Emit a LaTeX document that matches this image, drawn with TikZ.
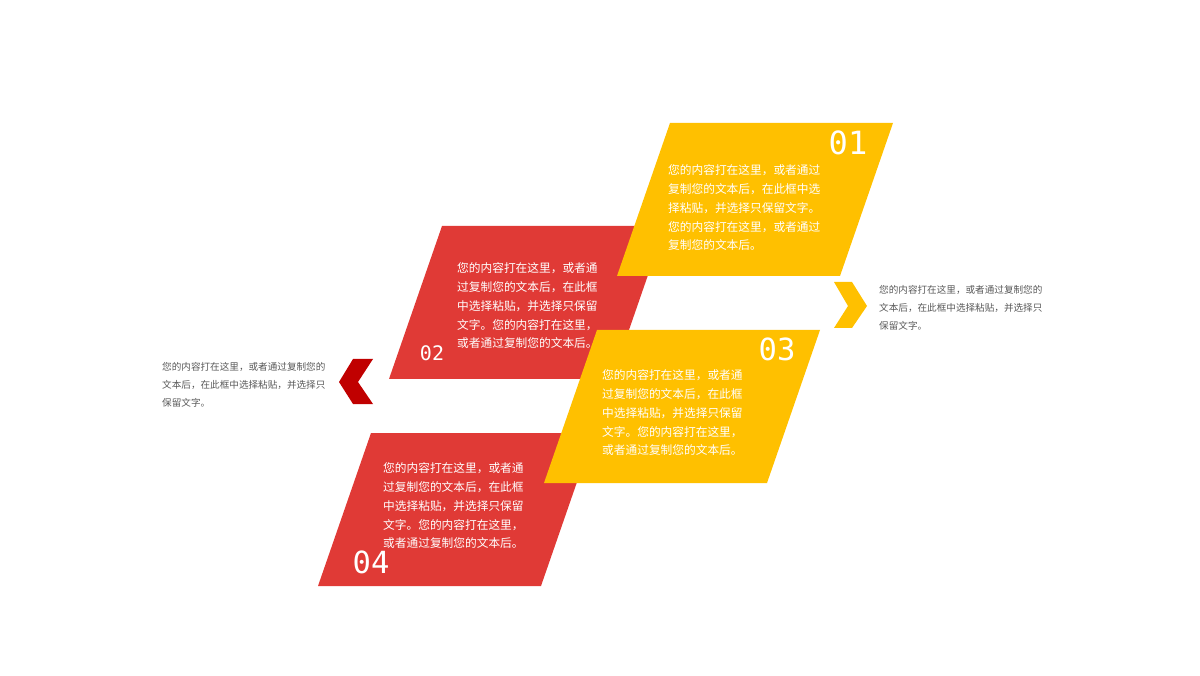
\documentclass[tikz,border=0pt]{standalone}
\usepackage{fontspec}
\setmainfont{Liberation Sans}
\newfontfamily\cjkfont{Noto Sans CJK SC}
\newfontfamily\numfont{DejaVu Sans Mono}
\definecolor{stepRed}{HTML}{E03A36}
\definecolor{stepGold}{HTML}{FFC000}
\definecolor{arrowRed}{HTML}{C00000}
\definecolor{noteGray}{HTML}{595959}
\tikzstyle{stepText}=[anchor=north west,inner sep=0pt,align=left,text=white,font=\cjkfont\fontsize{11.7}{18.8}\selectfont]
\tikzstyle{noteText}=[anchor=north west,inner sep=0pt,align=left,text=noteGray,font=\cjkfont\fontsize{9.6}{18}\selectfont]
\tikzstyle{stepNumber}=[inner sep=0pt,text=white,font=\numfont\fontsize{32}{32}\selectfont]

\begin{document}
\begin{tikzpicture}[x=1pt,y=-1pt]
		\useasboundingbox (0,0) rectangle (1200,676);
		
		\fill[stepRed] (442,226) -- (665,226) -- (612,379) -- (389,379) -- cycle;
		\fill[stepRed] (371,433) -- (594,433) -- (541,586) -- (318,586) -- cycle;
		\fill[stepGold] (670,123) -- (893,123) -- (840,276) -- (617,276) -- cycle;
		\fill[stepGold] (597,330) -- (820,330) -- (767,483) -- (544,483) -- cycle;
		
		\fill[arrowRed] (353,359) -- (373,359) -- (358,382) -- (373,404) -- (353,404) -- (339,382) -- cycle;
		\fill[stepGold] (834,282) -- (852,282) -- (867,306) -- (852,328) -- (834,328) -- (848,306) -- cycle;
		
		\node[stepNumber] (n1) at (848,143) {01};
		\node[stepNumber,font=\numfont\fontsize{20}{20}\selectfont] (n2) at (432,353) {02};
		\node[stepNumber,font=\numfont\fontsize{30.5}{30.5}\selectfont] (n3) at (777,349) {03};
		\node[stepNumber,font=\numfont\fontsize{30.5}{30.5}\selectfont] (n4) at (371,562) {04};
		
		\node[stepText] (t1) at (668,164.5) {您的内容打在这里，或者通过\\复制您的文本后，在此框中选\\择粘贴，并选择只保留文字。\\您的内容打在这里，或者通过\\复制您的文本后。};
		\node[stepText] (t2) at (457,262.5) {您的内容打在这里，或者通\\过复制您的文本后，在此框\\中选择粘贴，并选择只保留\\文字。您的内容打在这里，\\或者通过复制您的文本后。};
		\node[stepText] (t3) at (602,369.5) {您的内容打在这里，或者通\\过复制您的文本后，在此框\\中选择粘贴，并选择只保留\\文字。您的内容打在这里，\\或者通过复制您的文本后。};
		\node[stepText] (t4) at (383,462.5) {您的内容打在这里，或者通\\过复制您的文本后，在此框\\中选择粘贴，并选择只保留\\文字。您的内容打在这里，\\或者通过复制您的文本后。};
		
		\node[noteText] (left) at (162,362.5) {您的内容打在这里，或者通过复制您的\\文本后，在此框中选择粘贴，并选择只\\保留文字。};
		\node[noteText] (right) at (879,285.5) {您的内容打在这里，或者通过复制您的\\文本后，在此框中选择粘贴，并选择只\\保留文字。};
\end{tikzpicture}
\end{document}
